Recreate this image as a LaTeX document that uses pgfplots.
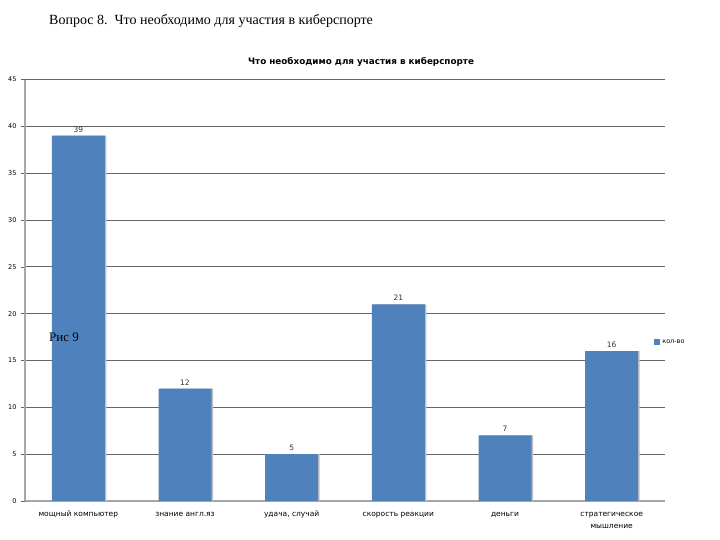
\documentclass[border=0pt]{standalone}
\usepackage{pgfplots}
\pgfplotsset{compat=1.18}
\usepackage{fontspec}
\setmainfont{Liberation Serif}
\newfontfamily\chartfont{DejaVu Sans}
\definecolor{barblue}{HTML}{4F81BD}
\definecolor{gridgray}{HTML}{666666}
\definecolor{axisgray}{HTML}{A6A6A6}
\begin{document}
\begin{tikzpicture}
\useasboundingbox (0pt,0pt) rectangle (720pt,-540pt);
\node[anchor=west,inner sep=0pt,font=\fontsize{14}{16}\selectfont] at (49pt,-21pt) {Вопрос 8.\ \ Что необходимо для участия в киберспорте};
\node[anchor=center,inner sep=0pt,font=\chartfont\bfseries\fontsize{8.8}{10}\selectfont] at (361pt,-62pt) {Что необходимо для участия в киберспорте};
\begin{axis}[
  at={(25pt,-501pt)}, anchor=south west,
  scale only axis, width=640pt, height=421.5pt,
  xmin=-0.5, xmax=5.5, ymin=0, ymax=45,
  axis x line*=bottom, axis y line*=left,
  axis line style={draw=axisgray, line width=1.2pt},
  ytick={0,5,...,45},
  ymajorgrids, grid style={draw=gridgray, line width=0.75pt},
  tick align=outside,
  major tick length=4pt,
  tick style={draw=gridgray, line width=0.6pt},
  xtick={0,...,5},
  xticklabels={{\strut мощный компьютер}, {\strut знание англ.яз}, {\strut удача, случай}, {\strut скорость реакции}, {\strut деньги}, {\strut стратегическое\\мышление}},
  x tick style={draw=none},
  extra x ticks={-0.5,0.5,...,5.5},
  extra x tick labels={},
  extra x tick style={grid=none, major tick length=4pt, tick style={draw=gridgray, line width=0.6pt}},
  xticklabel style={font=\chartfont\fontsize{7.5}{12}\selectfont, align=center, anchor=north, yshift=0pt},
  yticklabel style={font=\chartfont\fontsize{6.5}{7}\selectfont, xshift=-1pt},
  /pgf/number format/assume math mode=true,
  legend style={at={(0.983,0.377)}, anchor=west, draw=none, fill=none, font=\chartfont\fontsize{6.5}{7}\selectfont, inner sep=0pt},
  legend image code/.code={\fill[barblue] (0pt,-3pt) rectangle (6pt,3pt);},
  nodes near coords style={font=\chartfont\fontsize{7.5}{8}\selectfont, color=black!80},
]
\addplot[ybar, bar width=53pt, bar shift=1.5pt, fill=black!25, draw=none, forget plot] coordinates {(0,39) (1,12) (2,5) (3,21) (4,7) (5,16)};
\addplot[ybar, bar width=53pt, bar shift=0pt, fill=barblue, draw=none, nodes near coords] coordinates {(0,39) (1,12) (2,5) (3,21) (4,7) (5,16)};
\addlegendentry{кол-во}
\end{axis}
\node[anchor=west,inner sep=0pt,font=\fontsize{13}{15}\selectfont] at (49pt,-337pt) {Рис 9};
\end{tikzpicture}
\end{document}
